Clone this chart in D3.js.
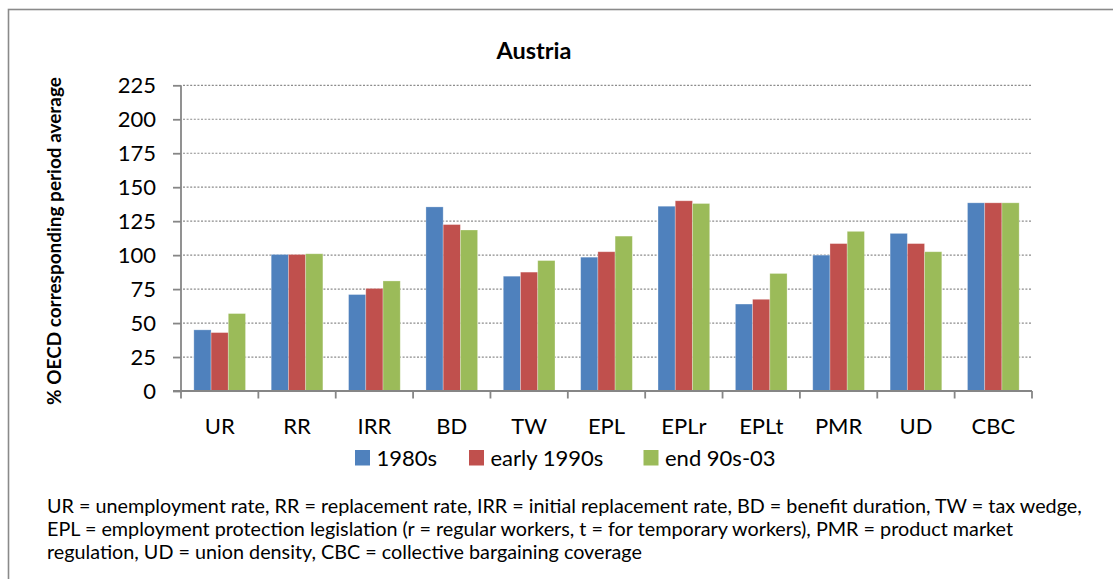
<!DOCTYPE html>
<html><head><meta charset="utf-8">
<script src="https://cdn.jsdelivr.net/npm/d3@7"></script>
<style>html,body{margin:0;padding:0;background:#fff;overflow:hidden}</style>
</head><body>
<svg id="chart" width="1113" height="579"></svg>
<script>
const categories = ["UR","RR","IRR","BD","TW","EPL","EPLr","EPLt","PMR","UD","CBC"];
const seriesNames = ["1980s","early 1990s","end 90s-03"];
const values1980s = [45, 100.5, 71, 135.5, 84.5, 98.5, 136, 64, 100, 116, 138.5];
const valuesEarly1990s = [43, 100.5, 75.5, 122.5, 87.5, 102.5, 140, 67.5, 108.5, 108.5, 138.5];
const valuesEnd90s03 = [57, 101, 81, 118.5, 96, 114, 138, 86.5, 117.5, 102.5, 138.5];
const yTicks = [0,25,50,75,100,125,150,175,200,225];
const title = "Austria";
const yTitle = "% OECD corresponding period average";
const footnote = [
  "UR = unemployment rate, RR = replacement rate, IRR = initial replacement rate, BD = benefit duration, TW = tax wedge,",
  "EPL = employment protection legislation (r = regular workers, t = for temporary workers), PMR = product market",
  "regulation, UD = union density, CBC = collective bargaining coverage"
];
const colors = ["#4F81BD","#C0504D","#9BBB59"];
const seriesValues = [values1980s, valuesEarly1990s, valuesEnd90s03];

const font = "Lato, 'Open Sans', sans-serif";
const svg = d3.select("#chart");

function fit(sel, target){
  const n = sel.node(); const fs = parseFloat(sel.attr("font-size"));
  const w = n.getComputedTextLength();
  sel.attr("font-size", fs*target/w);
  return fs*target/w;
}

// outer border
svg.append("rect").attr("x",8.5).attr("y",9.5).attr("width",1300).attr("height",800)
  .attr("fill","none").attr("stroke","#8a8a8a").attr("stroke-width",1.6);

const pL=181, pR=1032, pT=85.3, pB=391;
const x = d3.scaleBand().domain(categories).range([pL,pR]).paddingInner(0.332).paddingOuter(0.166);
const xs = d3.scaleBand().domain(seriesNames).range([0,x.bandwidth()]);
const y = d3.scaleLinear().domain([0,225]).range([pB,pT]);

// gridlines
svg.append("g").selectAll("line").data(yTicks.filter(d=>d>0)).join("line")
  .attr("x1",pL+2).attr("x2",pR).attr("y1",d=>y(d)).attr("y2",d=>y(d))
  .attr("stroke","#8c8c8c").attr("stroke-width",1.2).attr("stroke-dasharray","2,1.6");

// bars
const data = [];
categories.forEach((c,i)=>seriesNames.forEach((s,j)=>data.push({c,s,j,v:seriesValues[j][i]})));
svg.append("g").selectAll("rect").data(data).join("rect")
  .attr("x",d=>x(d.c)+xs(d.s)).attr("width",xs.bandwidth())
  .attr("y",d=>y(d.v)).attr("height",d=>y(0)-y(d.v))
  .attr("fill",d=>colors[d.j]).attr("stroke","rgba(255,255,255,0.35)").attr("stroke-width",0.8);

// y axis
const yAxis = d3.axisLeft(y).tickValues(yTicks).tickSize(8).tickPadding(17);
const gy = svg.append("g").attr("transform",`translate(${pL},0)`).call(yAxis);
gy.select(".domain").attr("stroke","#868686").attr("stroke-width",1.8).attr("d",`M0,${pT}V${pB}`);
gy.selectAll(".tick line").attr("stroke","#868686").attr("stroke-width",1.8);
gy.selectAll(".tick text").attr("font-family",font).attr("font-size",22).attr("fill","#000").attr("dy","0.34em");

// x axis
const xAxis = d3.axisBottom(x).tickSize(0).tickPadding(25);
const gx = svg.append("g").attr("transform",`translate(0,${pB})`).call(xAxis);
gx.select(".domain").attr("stroke","#868686").attr("stroke-width",1.8).attr("d",`M${pL-8},0H${pR}`);
const bounds = d3.range(categories.length+1).map(i=>pL + i*x.step());
gx.selectAll("line.sep").data(bounds).join("line").attr("class","sep")
  .attr("x1",d=>d).attr("x2",d=>d).attr("y1",0).attr("y2",7.5)
  .attr("stroke","#868686").attr("stroke-width",1.8);
gx.selectAll(".tick text").attr("font-family",font).attr("font-size",22).attr("fill","#000").attr("dy",0)
  .attr("y",43);

// title
const t = svg.append("text").attr("x",534).attr("y",59).attr("text-anchor","middle")
  .attr("font-family",font).attr("font-weight","bold").attr("font-size",22).text(title);
fit(t,75);

// y title
const yt = svg.append("text").attr("transform","translate(61,241) rotate(-90)").attr("text-anchor","middle")
  .attr("font-family",font).attr("font-weight","bold").attr("font-size",17).text(yTitle);
fit(yt,328);

// legend
const legX = [355,469,643.5];
const lg = svg.append("g").selectAll("g").data(seriesNames).join("g")
  .attr("transform",(d,i)=>`translate(${legX[i]},450)`);
lg.append("rect").attr("width",15).attr("height",15.5).attr("fill",(d,i)=>colors[i]);
lg.append("text").attr("x",21.5).attr("y",16).attr("font-family",font).attr("font-size",22).text(d=>d);

// footnote
const fn = svg.append("g").attr("font-family",font).attr("fill","#000");
const fl = fn.selectAll("text").data(footnote).join("text")
  .attr("x",47).attr("y",(d,i)=>513+i*23).attr("font-size",16).text(d=>d);
const fs = fit(d3.select(fl.nodes()[0]),1035);
fl.attr("font-size",fs);
</script>
</body></html>
